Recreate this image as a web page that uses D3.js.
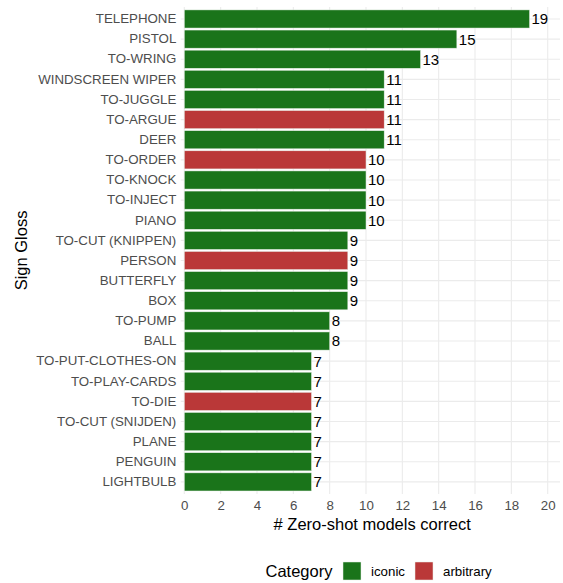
<!DOCTYPE html>
<html><head><meta charset="utf-8">
<script src="https://cdn.jsdelivr.net/npm/d3@7"></script>
<style>body{margin:0;background:#fff}svg{display:block}text{font-family:"Liberation Sans",Arial,Helvetica,sans-serif}</style>
</head><body>
<svg id="c" width="563" height="583"></svg>
<script>
const glosses = ["TELEPHONE","PISTOL","TO-WRING","WINDSCREEN WIPER","TO-JUGGLE","TO-ARGUE","DEER","TO-ORDER","TO-KNOCK","TO-INJECT","PIANO","TO-CUT (KNIPPEN)","PERSON","BUTTERFLY","BOX","TO-PUMP","BALL","TO-PUT-CLOTHES-ON","TO-PLAY-CARDS","TO-DIE","TO-CUT (SNIJDEN)","PLANE","PENGUIN","LIGHTBULB"];
const correct = [19,15,13,11,11,11,11,10,10,10,10,9,9,9,9,8,8,7,7,7,7,7,7,7];
const category = ["iconic","iconic","iconic","iconic","iconic","arbitrary","iconic","arbitrary","iconic","iconic","iconic","iconic","arbitrary","iconic","iconic","iconic","iconic","iconic","iconic","arbitrary","iconic","iconic","iconic","iconic"];
const categories = ["iconic","arbitrary"];
const colors = ["#1a741a","#ba3838"];
const xTicks = [0,2,4,6,8,10,12,14,16,18,20];

const data = glosses.map((g,i)=>({g, v:correct[i], c:category[i]}));
const svg = d3.select("#c");
const panel = {left:184.3, right:560, top:6.9, bottom:494};
const x = d3.scaleLinear().domain([0,20]).range([184.3,547.7]);
const y = d3.scaleBand().domain(glosses).range([panel.top, panel.bottom]).paddingInner(0.1).paddingOuter(0.15);
const color = d3.scaleOrdinal().domain(categories).range(colors);

// grid
const g = svg.append("g");
g.selectAll("line.vx").data(xTicks).join("line")
  .attr("x1",d=>x(d)).attr("x2",d=>x(d)).attr("y1",panel.top).attr("y2",panel.bottom)
  .attr("stroke","#ebebeb").attr("stroke-width",1.1);
g.selectAll("line.hy").data(glosses).join("line")
  .attr("x1",x(0)-3.5).attr("x2",panel.right).attr("y1",d=>y(d)+y.bandwidth()/2).attr("y2",d=>y(d)+y.bandwidth()/2)
  .attr("stroke","#ebebeb").attr("stroke-width",1.1);

// bars
svg.append("g").selectAll("rect").data(data).join("rect")
  .attr("x",x(0)).attr("y",d=>y(d.g)).attr("width",d=>x(d.v)-x(0)).attr("height",y.bandwidth())
  .attr("fill",d=>color(d.c)).attr("stroke","#e8efe8").attr("stroke-width",0.5);

// value labels
svg.append("g").selectAll("text").data(data).join("text")
  .attr("x",d=>x(d.v)+2).attr("y",d=>y(d.g)+y.bandwidth()/2).attr("dy","0.36em")
  .attr("font-size",15).attr("fill","#000").text(d=>d.v);

// y axis labels
const ya = d3.axisLeft(y).tickSize(0).tickPadding(8);
svg.append("g").attr("transform",`translate(${x(0)},0)`).call(ya)
  .call(s=>s.select(".domain").remove())
  .call(s=>s.selectAll("text").attr("font-size",13.3).attr("fill","#4d4d4d").attr("font-family",null));

// x axis labels
const xa = d3.axisBottom(x).tickValues(xTicks).tickSize(0).tickPadding(7);
svg.append("g").attr("transform",`translate(0,${panel.bottom})`).call(xa)
  .call(s=>s.select(".domain").remove())
  .call(s=>s.selectAll("text").attr("font-size",13.3).attr("fill","#4d4d4d").attr("font-family",null));

// titles
svg.append("text").attr("x",(x(0)+panel.right)/2).attr("y",530).attr("text-anchor","middle")
  .attr("font-size",16.5).attr("fill","#000").text("# Zero-shot models correct");
svg.append("text").attr("transform",`translate(27,${(panel.top+panel.bottom)/2}) rotate(-90)`).attr("text-anchor","middle")
  .attr("font-size",16.5).attr("fill","#000").text("Sign Gloss");

// legend
const lg = svg.append("g");
lg.append("text").attr("x",265.5).attr("y",577).attr("font-size",16.5).attr("fill","#000").text("Category");
const keyX = [343,415];
const labX = [371,443];
categories.forEach((c,i)=>{
  lg.append("rect").attr("x",keyX[i]).attr("y",562).attr("width",18).attr("height",18).attr("fill",color(c)).attr("stroke","#e8efe8").attr("stroke-width",0.5);
  lg.append("text").attr("x",labX[i]).attr("y",576).attr("font-size",13.3).attr("fill","#000").text(c);
});
</script>
</body></html>
